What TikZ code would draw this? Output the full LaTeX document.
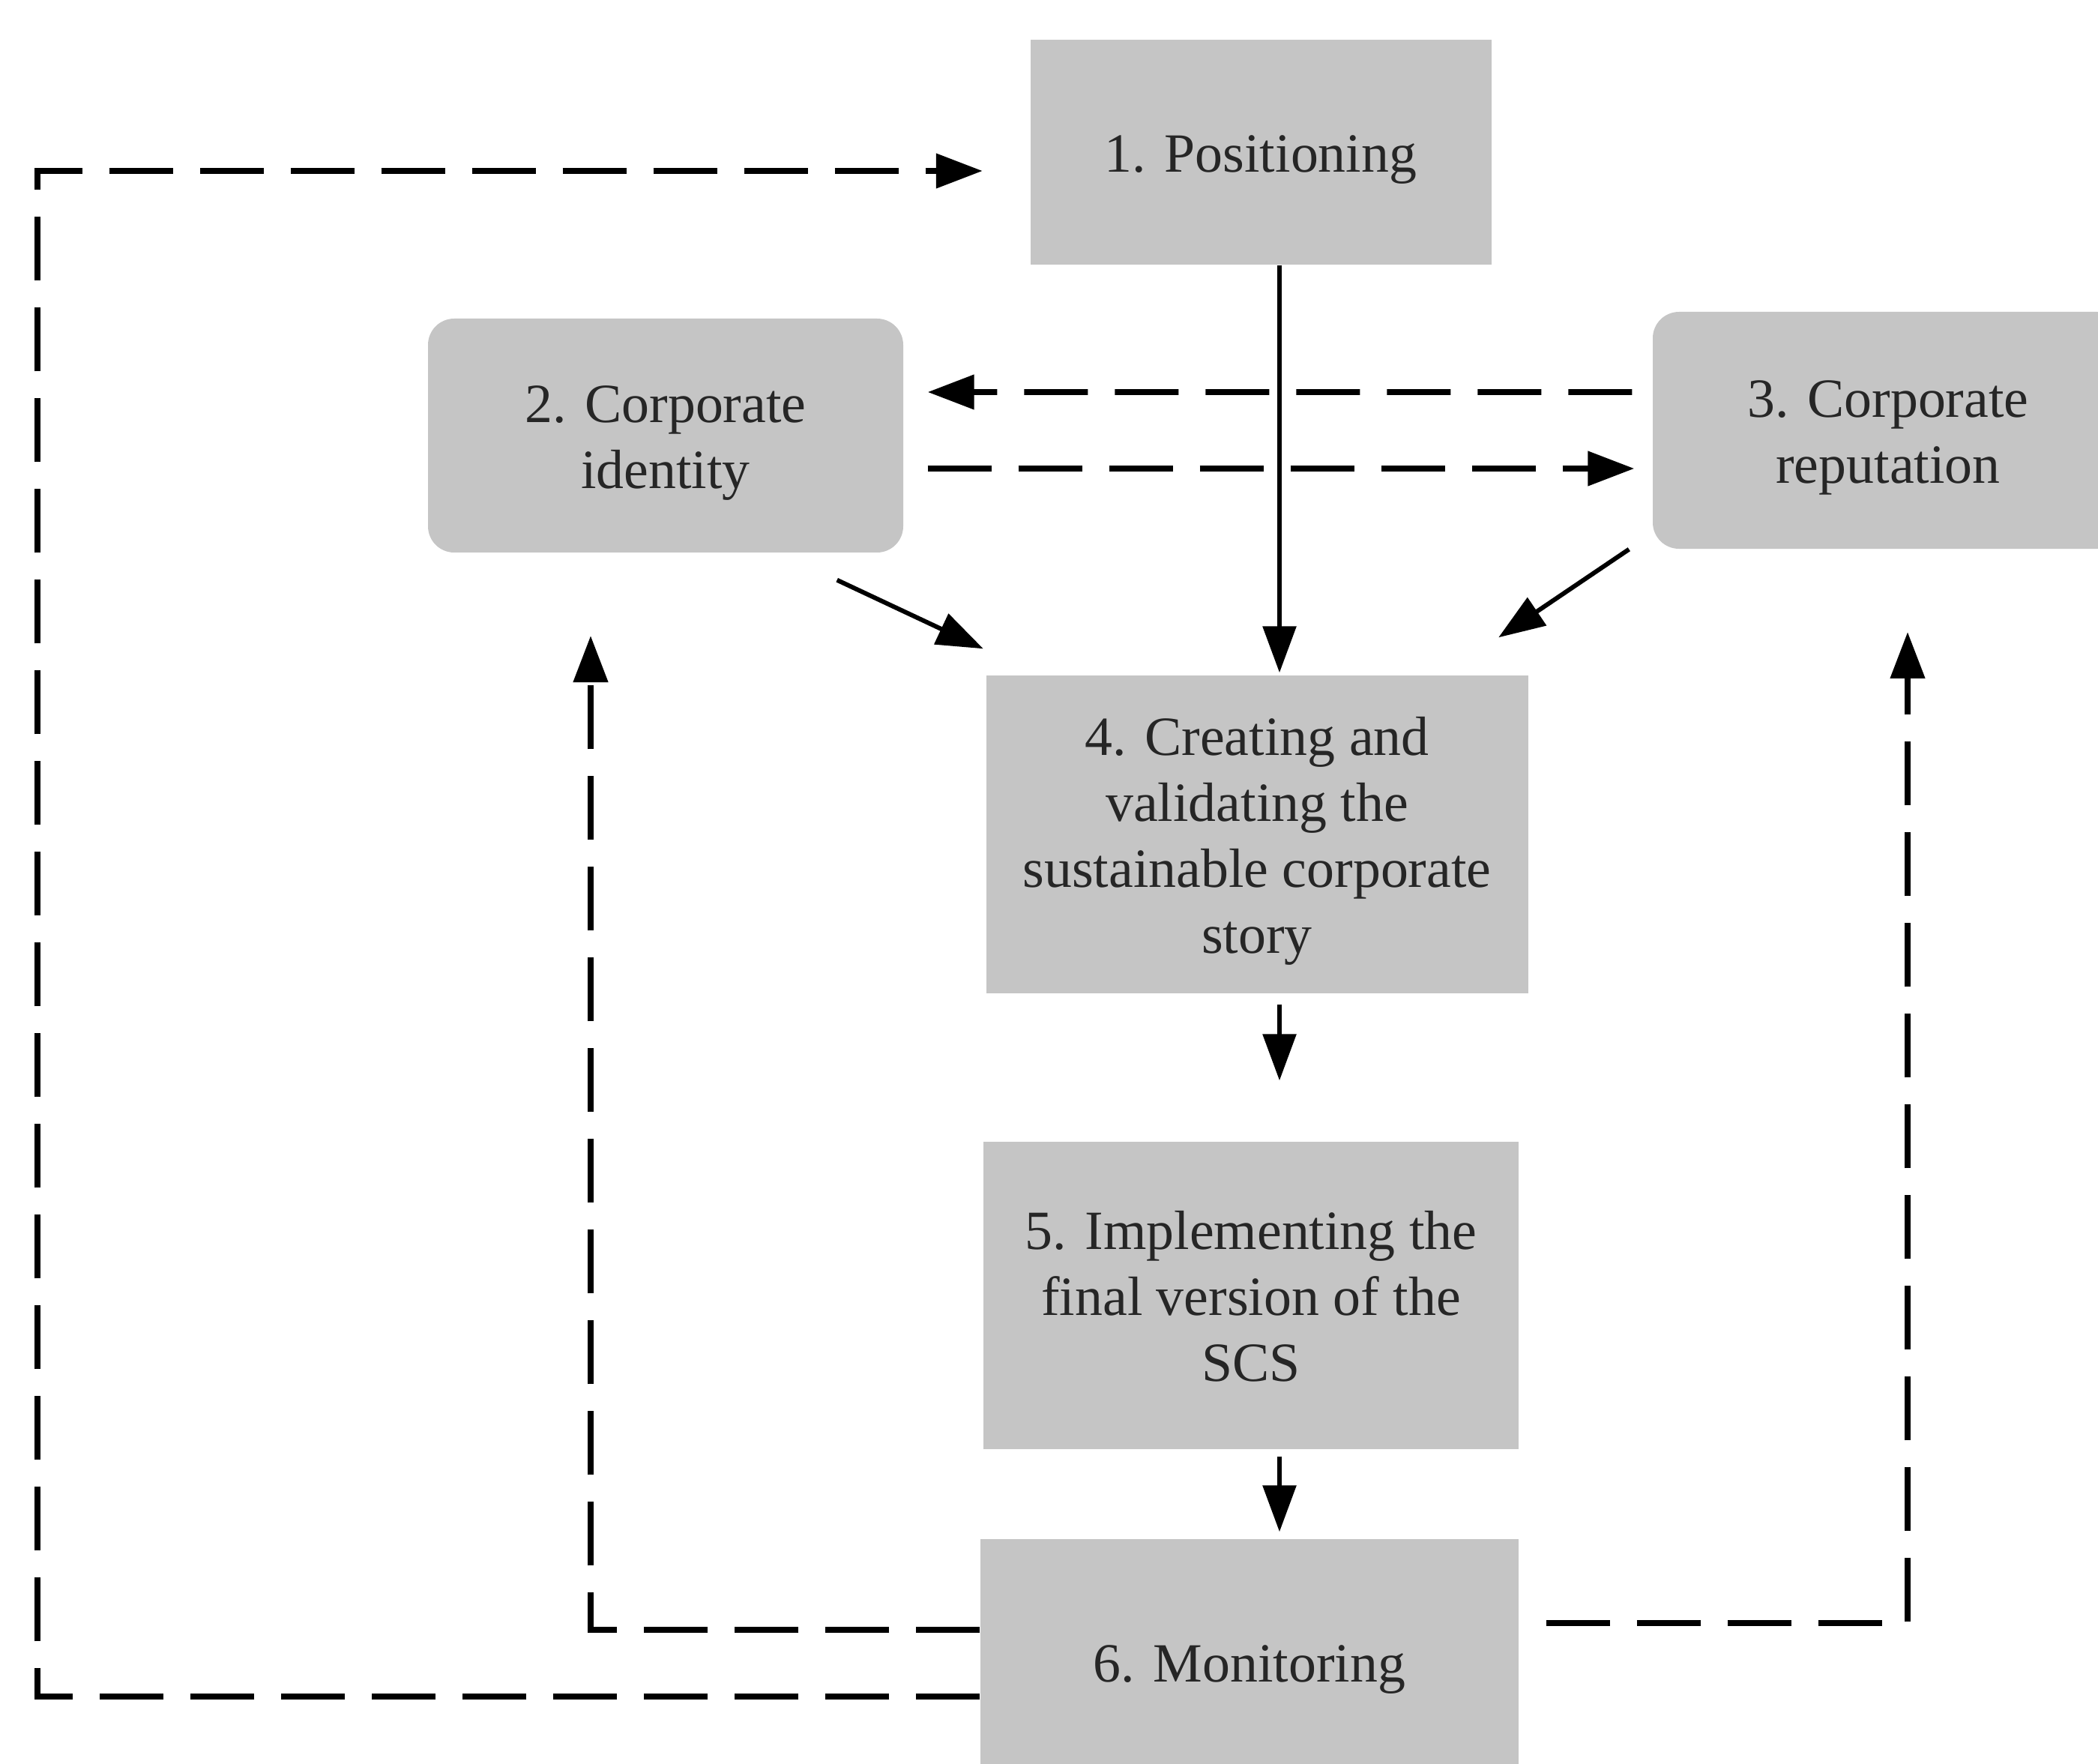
\documentclass[tikz,border=0pt]{standalone}
\usepackage{fontspec}
\setmainfont{Liberation Serif}
\usetikzlibrary{arrows.meta}
\definecolor{boxgray}{RGB}{197,197,197}
% stage label: centred lines, set slightly below the box centre
\newcommand\stagetext[1]{\raisebox{-0.09cm}[\height][\depth]{\begin{tabular}{@{}c@{}}#1\end{tabular}}}
\begin{document}
\begin{tikzpicture}[x=1cm,y=1cm,
  stage/.style={fill=boxgray, draw=none, inner sep=0pt,
    font=\fontsize{21}{25}\selectfont, text=black!85},
  roundstage/.style={stage, rounded corners=0.35cm},
  flow/.style={line width=1.7pt, -{Triangle[length=0.62cm,width=0.44cm]}},
  loop/.style={line width=2.2pt, dash pattern=on 0.85cm off 0.36cm,
    -{Triangle[length=0.62cm,width=0.45cm]}},
]
\useasboundingbox (0,0) rectangle (27.99,-23.53);

% process stages
\node[stage, minimum width=6.15cm, minimum height=3.00cm] (pos) at (16.82,-2.03) {\stagetext{1. Positioning}};
\node[roundstage, minimum width=6.34cm, minimum height=3.12cm] (ident) at (8.88,-5.81) {\stagetext{2. Corporate\\identity}};
\node[roundstage, minimum width=6.28cm, minimum height=3.16cm] (rep) at (25.19,-5.74) {\stagetext{3. Corporate\\reputation}};
\node[stage, minimum width=7.23cm, minimum height=4.24cm] (story) at (16.77,-11.13) {\stagetext{4. Creating and\\validating the\\sustainable corporate\\story}};
\node[stage, minimum width=7.14cm, minimum height=4.10cm] (impl) at (16.69,-17.28) {\stagetext{5. Implementing the\\final version of the\\SCS}};
\node[stage, minimum width=7.18cm, minimum height=3.28cm] (mon) at (16.67,-22.17) {\stagetext{6. Monitoring}};

% helper points for the main axis and the feedback loops
\coordinate (spine) at (17.07,0);
\coordinate (outer) at (0.50,-2.28);
\coordinate (innerL) at (7.88,-8.48);
\coordinate (innerR) at (25.45,-8.43);

% main flow
\draw[flow, shorten >=0.03cm] (pos.south -| spine) -- (story.north -| spine);
\draw[flow, shorten <=0.14cm, shorten >=0.81cm] (story.south -| spine) -- (impl.north -| spine);
\draw[flow, shorten <=0.09cm, shorten >=0.09cm] (impl.south -| spine) -- (mon.north -| spine);
\draw[flow] ([xshift=-0.89cm,yshift=-0.36cm]ident.south east) -- ([xshift=-0.03cm,yshift=0.35cm]story.north west);
\draw[flow] ([xshift=-0.31cm]rep.south west) -- ([xshift=-0.40cm,yshift=0.50cm]story.north east);

% identity <-> reputation
\draw[loop] ([xshift=-0.27cm,yshift=0.51cm]rep.west) -- ([xshift=0.32cm,yshift=0.58cm]ident.east);
\draw[loop] ([xshift=0.32cm,yshift=-0.44cm]ident.east) -- ([xshift=-0.24cm,yshift=-0.51cm]rep.west);

% feedback loops from monitoring
\draw[loop] ([yshift=-0.46cm]mon.west) -| (outer) -- ([xshift=-0.63cm,yshift=-0.25cm]pos.west);
\draw[loop] ([yshift=0.43cm]mon.west) -| (innerL);
\draw[loop] ([xshift=0.36cm,yshift=0.52cm]mon.east) -| (innerR);
\end{tikzpicture}
\end{document}
